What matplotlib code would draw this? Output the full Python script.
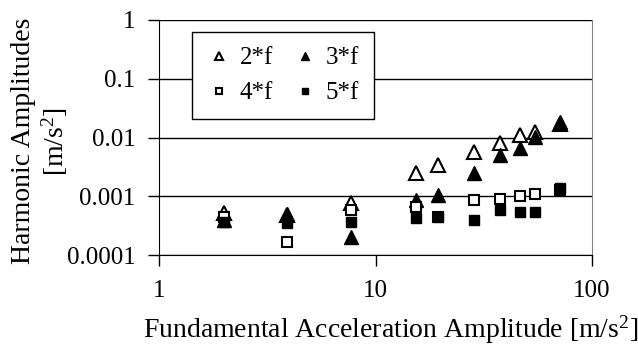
import numpy as np
import matplotlib
matplotlib.use('Agg')
import matplotlib.pyplot as plt

plt.rcParams['font.family'] = ['Liberation Serif', 'DejaVu Serif']
plt.rcParams['mathtext.fontset'] = 'custom'
plt.rcParams['mathtext.rm'] = 'Liberation Serif'
plt.rcParams['mathtext.it'] = 'Liberation Serif:italic'

# fundamental acceleration amplitude [m/s^2]
fund = [2.0, 3.9, 7.7, 15.4, 19.5, 28.6, 37.7, 46.6, 54.7, 71.3]

# harmonic amplitudes [m/s^2]
h2 = [0.00052, 0.00048, 0.00077, 0.0025, 0.0034, 0.0057, 0.0081, 0.011, 0.0124, 0.017]
h3 = [0.00039, 0.00050, 0.00020, 0.00086, 0.00105, 0.0025, 0.0050, 0.0066, 0.0102, 0.0185]
h4 = [0.00045, 0.000166, 0.00058, 0.00066, 0.00045, 0.00086, 0.00089, 0.00101, 0.00109, 0.0013]
h5 = [0.00036, 0.00035, 0.00036, 0.00043, 0.00044, 0.00040, 0.00058, 0.00054, 0.00054, 0.00138]

labels = ['2*f', '3*f', '4*f', '5*f']

FS = 18     # ticks, legend
FS_LAB = 20 # axis titles

fig = plt.figure(figsize=(6.38, 3.6), dpi=100)
ax = fig.add_axes([159/638, 1-255/360, 433/638, 235/360])

l2, = ax.plot(fund, h2, ls='none', marker='^', ms=9.5, mfc='white', mec='black', mew=1.5, label=labels[0])
l3, = ax.plot(fund, h3, ls='none', marker='^', ms=9.5, mfc='black', mec='black', mew=1.0, label=labels[1])
l4, = ax.plot(fund, h4, ls='none', marker='s', ms=7.5, mfc='white', mec='black', mew=1.5, label=labels[2])
l5, = ax.plot(fund, h5, ls='none', marker='s', ms=7.5, mfc='black', mec='black', mew=1.0, label=labels[3])

ax.set_xscale('log')
ax.set_yscale('log')
ax.set_xlim(1, 100)
ax.set_ylim(0.0001, 1)
ax.set_xticks([1, 10, 100])
ax.set_xticklabels(['1', '10', '100'])
ax.set_yticks([0.0001, 0.001, 0.01, 0.1, 1])
ax.set_yticklabels(['0.0001', '0.001', '0.01', '0.1', '1'])
ax.minorticks_off()
ax.tick_params(axis='both', labelsize=FS, direction='out', length=8, width=1, color='black')
ax.tick_params(axis='x', pad=10)
ax.tick_params(axis='y', pad=9)

# horizontal gridlines only
ax.yaxis.grid(True, color='black', lw=1)
ax.set_axisbelow(True)
ax.spines['top'].set_visible(False)
ax.spines['right'].set_color('#808080')

ax.set_xlabel(r'Fundamental Acceleration Amplitude [m/s$^2$]', fontsize=FS_LAB)
ax.xaxis.set_label_coords(0.536, -0.25)
ax.set_ylabel('Harmonic Amplitudes\n' + r'[m/s$^2$]', fontsize=FS_LAB, linespacing=1.15)
ax.yaxis.set_label_coords(-0.205, 0.485)

# rows: 2*f 3*f / 4*f 5*f
leg = ax.legend([l2, l4, l3, l5], [labels[0], labels[2], labels[1], labels[3]],
                ncol=2, loc='upper left', bbox_to_anchor=(0.076, 0.95), fontsize=FS,
                markerscale=0.65, frameon=True, fancybox=False, framealpha=1,
                edgecolor='black', borderpad=0.6, labelspacing=0.5,
                handlelength=1.0, handletextpad=0.3, columnspacing=0.8, borderaxespad=0)
leg.get_frame().set_linewidth(1)

fig.savefig('out.png', dpi=100)
